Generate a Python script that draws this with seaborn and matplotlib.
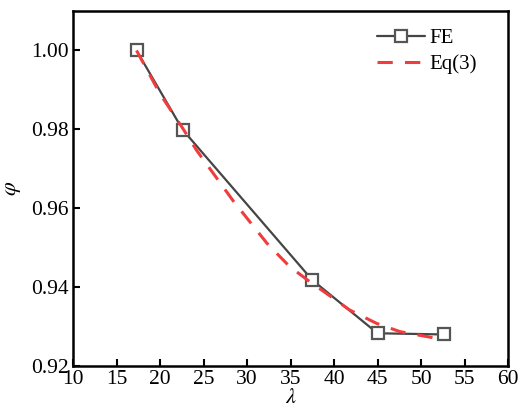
import numpy as np
import pandas as pd
import matplotlib
matplotlib.use("Agg")
import matplotlib.pyplot as plt
import seaborn as sns

# FE data
fe_lambda = [17.3, 22.6, 37.5, 45.0, 52.6]
fe_phi = [1.000, 0.9799, 0.9418, 0.9283, 0.9280]

# Eq(3) curve
eq_lambda = [17.3, 20.0, 22.6, 24.2, 28.4, 32.3, 34.9, 37.2, 39.9, 41.8, 44.9, 47.6, 51.8, 52.6]
eq_phi = [1.000, 0.9890, 0.9803, 0.9747, 0.9619, 0.9511, 0.9452, 0.9414, 0.9372, 0.9342, 0.9308, 0.9287, 0.9270, 0.9268]

x_ticks = [10, 15, 20, 25, 30, 35, 40, 45, 50, 55, 60]
y_ticks = [0.92, 0.94, 0.96, 0.98, 1.00]

sns.set_theme(style="ticks")
plt.rcParams['font.family'] = ['Liberation Serif', 'DejaVu Serif']
plt.rcParams['mathtext.fontset'] = 'stix'
for k in ['text.color', 'axes.labelcolor', 'xtick.color', 'ytick.color', 'axes.edgecolor']:
    plt.rcParams[k] = 'black'

fig = plt.figure(figsize=(5.31, 4.17), dpi=100)
ax = fig.add_axes([0.1375, 0.1223, 0.8192, 0.8513])

fe_df = pd.DataFrame({"lam": fe_lambda, "phi": fe_phi})
eq_df = pd.DataFrame({"lam": eq_lambda, "phi": eq_phi})

sns.lineplot(data=fe_df, x="lam", y="phi", ax=ax, color="#454545", lw=1.6,
             marker="s", markersize=8, markerfacecolor="white",
             markeredgecolor="#555555", markeredgewidth=1.6, label="FE", zorder=3)
sns.lineplot(data=eq_df, x="lam", y="phi", ax=ax, color="#f03c3c", lw=2.2,
             dashes=False, linestyle=(0, (5, 4)), label="Eq(3)", zorder=4)

ax.set_xlim(10, 60)
ax.set_ylim(0.92, 1.01)
ax.set_xticks(x_ticks)
ax.set_xticklabels([str(t) for t in x_ticks])
ax.set_yticks(y_ticks)
ax.set_yticklabels([f"{t:.2f}" for t in y_ticks])
ax.tick_params(direction="in", length=5, width=1.5, labelsize=15.5, pad=3)
for s in ax.spines.values():
    s.set_linewidth(1.8)
    s.set_visible(True)

ax.set_xlabel(r"$\lambda$", fontsize=16, labelpad=0)
ax.set_ylabel(r"$\varphi$", fontsize=16, labelpad=6)

leg = ax.legend(loc="upper right", frameon=False, fontsize=15, handlelength=2.3,
                handletextpad=0.2, borderaxespad=0.6, labelspacing=0.3,
                bbox_to_anchor=(0.976, 1.01))

fig.savefig("out.png", dpi=100)
